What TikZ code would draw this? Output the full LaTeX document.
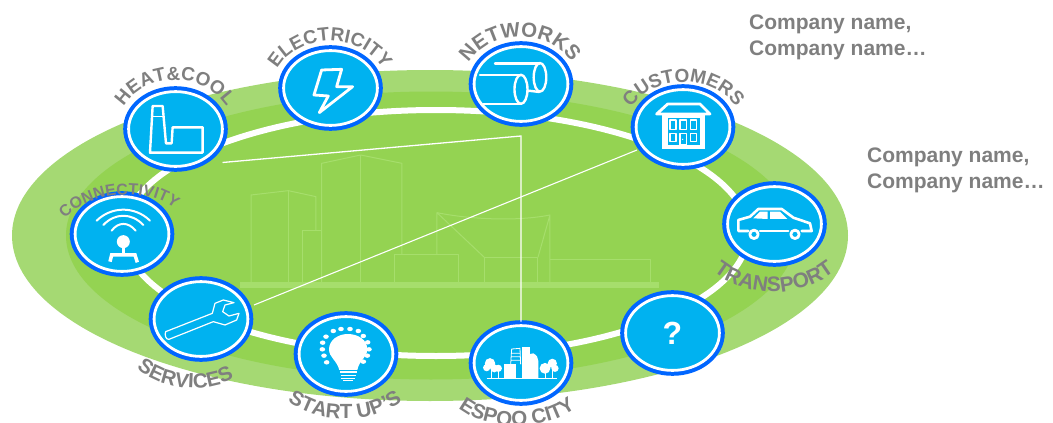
\documentclass[tikz,border=0pt]{standalone}
\usepackage{fontspec}
\setmainfont{Liberation Sans}
\usetikzlibrary{calc,shapes.geometric,decorations.text}
\definecolor{outergreen}{HTML}{A5D973}
\definecolor{innergreen}{HTML}{94D352}
\definecolor{citygreen}{HTML}{A6DE6C}
\definecolor{bluefill}{HTML}{00B2F0}
\definecolor{blueedge}{HTML}{0066FF}
\definecolor{lblgray}{HTML}{7F7F7F}
\newcommand\arclabel[9]{%
  \path[shift={(#1,#2)},rotate=#5,decorate,decoration={text along path,text align=center,
    text={|\fontsize{#8}{#8}\selectfont\bfseries\color{lblgray}|#9}}]
    plot[domain=#6:#7,samples=50] ({#3*cos(\x)},{#4*sin(\x)});}
\tikzset{
  hub/.style={ellipse,fill=bluefill,draw=white,line width=2.8pt,inner sep=0pt,outer sep=0pt,
    minimum width=93.8pt,minimum height=74.8pt,text=white,
    font=\fontsize{32}{32}\selectfont\bfseries,
    preaction={draw=blueedge,line width=10.8pt}},
  zz/.style 2 args={shift={(#1,#2)},x=0.3333pt,y=-0.3333pt},
  ico/.style={draw=white,line width=2.4pt,line join=round,line cap=round},
  thinico/.style={draw=white,line width=1.2pt,line join=round},
  city/.style={draw=citygreen,line width=1pt,line join=round},
  link/.style={draw=white,line width=1.3pt},
  company/.style={anchor=north west,align=left,inner sep=0pt,text=lblgray,
    font=\fontsize{21}{26}\selectfont\bfseries}
}
\begin{document}
\begin{tikzpicture}[x=1pt,y=-1pt]
\useasboundingbox (0,0) rectangle (1053,423);
\fill[outergreen] (430,235.5) ellipse [x radius=418pt,y radius=165.5pt];
\fill[innergreen] (431,235.5) ellipse [x radius=365pt,y radius=144pt];
% city silhouette
\begin{scope}[zz={230}{140}]
\fill[citygreen] (30,427) rectangle (1287,443);
\draw[city] (63,430)--(63,165)--(175,152)--(258,170)--(258,272);
\draw[city] (175,152)--(175,430);
\draw[city] (218,430)--(218,272)--(275,272);
\draw[city] (275,430)--(275,70)--(392,45)--(516,70)--(516,345);
\draw[city] (392,45)--(392,430);
\draw[city] (493,430)--(493,345)--(687,345)--(687,430);
\draw[city] (621,345)--(621,218)--(763,352);
\draw[city] (763,430)--(763,352)--(924,352)--(924,430);
\draw[city] (924,352)--(960,225)--(960,430);
\draw[city] (621,218) .. controls (720,238) and (860,245) .. (960,225);
\draw[city] (960,360)--(1263,360)--(1263,430);
\end{scope}
\draw[white,line width=6pt] (436,233) ellipse [x radius=312pt,y radius=123pt];
% hubs
\node[hub] (heat) at (175.5,129) {};
\node[hub] (elec) at (330.5,88) {};
\node[hub] (netw) at (521,84) {};
\node[hub] (cust) at (683,127) {};
\node[hub] (tran) at (774.5,224) {};
\node[hub] (ques) at (672.5,333) {?\hspace{6pt}};
\node[hub] (espo) at (521,363) {};
\node[hub] (star) at (346,354) {};
\node[hub] (serv) at (201,319) {};
\node[hub] (conn) at (122,234) {};
% connectors
\coordinate (heatend) at ($(heat)+(47,33.5)$);
\coordinate (bend) at ($(netw)+(0,52)$);
\coordinate (servend) at ($(serv)+(53,-14)$);
\coordinate (custend) at ($(cust)+(-46,23)$);
\draw[link] (heatend) -- (bend) -- ([yshift=4pt]espo.north);
\draw[link,line width=1.1pt] (servend) -- (custend);
% factory
\begin{scope}[zz={0}{0}]
\draw[ico] (450,458)--(458,318)--(488,318)--(498,430)--(515,430)--(518,382)--(608,382)--(608,458)--cycle;
\draw[ico,line width=1.5pt] (456,350)--(490,350);
% bolt
\draw[ico,line width=2.8pt] (965,210)--(1025,208)--(1010,260)--(1058,260)--(958,338)--(985,288)--(942,285)--cycle;
\end{scope}
% pipes
\begin{scope}[zz={420}{0}]
\draw[ico] (225,190)--(358,190);
\draw[ico] (360,232) ellipse [x radius=6.3pt,y radius=14.3pt];
\draw[ico] (325,272)--(358,276);
\draw[ico] (180,225)--(303,225);
\draw[ico] (190,312)--(303,312);
\draw[ico] (303,268) ellipse [x radius=6.5pt,y radius=14.5pt];
\end{scope}
% house
\begin{scope}[zz={645}{90}]
\draw[ico,line width=2.8pt] (35,72)--(68,42)--(165,42)--(195,72)--cycle;
\fill[white] (52,72) rectangle (180,178);
\fill[bluefill] (68,85) rectangle (165,165);
\foreach \a/\b/\c/\d in {75/90/93/118,105/90/125/118,137/90/155/118,75/130/93/155,105/130/125/165,137/130/155/155}
  \draw[thinico] (\a,\b) rectangle (\c,\d);
\fill[white] (113,148) circle [radius=0.7pt];
\end{scope}
% car
\begin{scope}[zz={730}{195}]
\draw[ico,line width=2.6pt] (55,108)--(25,108)--(25,75)--(60,65)--(85,42)--(155,42)--(190,68)--(240,85)--(245,108)--(215,108);
\draw[ico,line width=2.2pt] (90,108)--(175,108);
\draw[ico,line width=2.8pt] (72,118) circle [radius=4.2pt];
\draw[ico,line width=2.8pt] (195,118) circle [radius=4.2pt];
\fill[white] (70,70)--(90,50)--(113,50)--(113,72)--cycle;
\fill[white] (120,50)--(150,50)--(172,72)--(120,72)--cycle;
\end{scope}
% city icon
\begin{scope}[zz={475}{335}]
\draw[white,line width=1pt] (35,131)--(245,131);
\fill[white] (45,85) circle [radius=5.2pt] (35,98) circle [radius=3.6pt] (58,100) circle [radius=4pt] (70,100) circle [radius=3.6pt];
\fill[white] (210,100) circle [radius=5.4pt] (232,85) circle [radius=4.6pt] (240,100) circle [radius=3.6pt];
\draw[white,line width=1pt] (48,105)--(48,131) (70,108)--(70,131) (212,105)--(212,131) (232,100)--(232,131);
\fill[white] (88,88) rectangle (122,130);
\fill[white] (142,35) rectangle (165,130);
\fill[white] (150,130)--(150,60)--(175,55) .. controls (185,60) and (190,68) .. (190,78)--(190,130)--cycle;
\draw[white,line width=.8pt] (107,88)--(110,42)--(135,40)--(137,88) (109,55)--(135,55) (109,65)--(136,65) (108,76)--(136,76);
\end{scope}
% bulb
\begin{scope}[zz={310}{320}]
\fill[white] (88,150) .. controls (80,120) and (57,112) .. (57,88) .. controls (57,60) and (85,42) .. (113,42)
  .. controls (145,42) and (172,60) .. (172,88) .. controls (172,112) and (148,120) .. (142,150) -- cycle;
\draw[white,line width=1.1pt] (90,156)--(140,156) (92,166)--(138,166) (92,176)--(136,176) (100,182)--(130,182);
\foreach \px/\py in {48/50,38/68,37/88,42/107,50/127,70/33,93/27,120/27,145/33,160/48,173/67,177/88,172/107,160/125}
  \fill[white] (\px,\py) ellipse [x radius=2.8pt,y radius=2.2pt];
\end{scope}
% wifi
\begin{scope}[zz={85}{200}]
\draw[ico,line width=2pt] (35,62) .. controls (80,18) and (150,18) .. (195,62);
\draw[ico,line width=2pt] (55,75) .. controls (90,38) and (140,38) .. (175,75);
\draw[ico,line width=2pt] (80,92) .. controls (100,65) and (130,65) .. (152,92);
\fill[white] (115,125) circle [radius=6.5pt];
\draw[white,line width=3.5pt] (115,125)--(115,165);
\draw[white,line width=3.5pt,line join=miter] (75,185)--(80,165)--(150,165)--(157,187);
\end{scope}
% wrench
\begin{scope}[zz={155}{290}]
\draw[thinico] (32,125) .. controls (28,135) and (33,150) .. (42,148) -- (175,95) -- (210,105) -- (245,90) -- (252,70) -- (222,78) -- (203,65) -- (210,45) -- (237,38) -- (205,30) -- (180,40) -- (172,70) -- cycle;
\end{scope}
% curved labels
\arclabel{175}{129}{58}{49}{0}{180}{360}{19}{HEAT{\&}COOL}
\arclabel{330}{88}{58}{47}{0}{180}{360}{19}{ELECTRICITY}
\arclabel{520}{84}{58}{47}{0}{180}{360}{20.5}{NETWORKS}
\arclabel{683.5}{127}{58}{45}{0}{180}{360}{19}{CUSTOMERS}
\arclabel{121.5}{230}{62}{35}{5}{180}{360}{16}{CONNECTIVITY}
\arclabel{774}{224}{84}{68}{0}{180}{0}{21}{TRANSPORT}
\arclabel{191}{319}{80}{69}{-6}{180}{0}{20.5}{SERVICES}
\arclabel{345}{354}{84}{65}{0}{180}{0}{20.5}{START UP'S}
\arclabel{517}{363}{84}{63}{0}{180}{0}{20.5}{ESPOO CITY}
% companies
\node[company] (co1) at (749,15) {Company name,\\Company name…};
\node[company] (co2) at (867,148) {Company name,\\Company name…};
\end{tikzpicture}
\end{document}
